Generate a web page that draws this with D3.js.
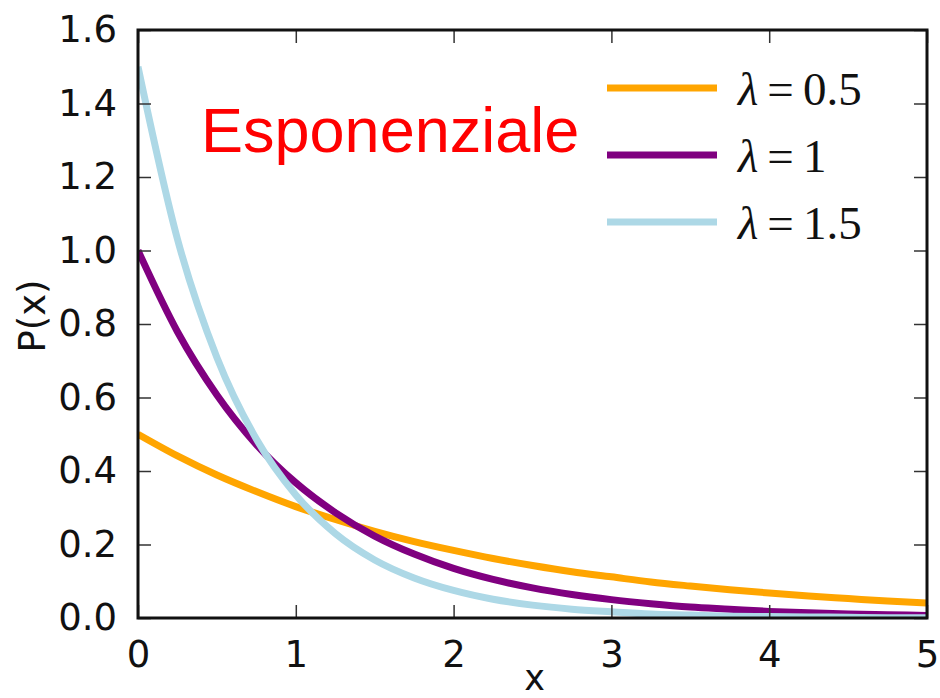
<!DOCTYPE html>
<html><head><meta charset="utf-8">
<script src="https://cdn.jsdelivr.net/npm/d3@7"></script>
<style>body{margin:0;background:#fff}svg{display:block}</style>
</head><body>
<svg id="c" width="940" height="698"></svg>
<script>
// x positions
const xs = [0,0.25,0.5,0.75,1,1.25,1.5,1.75,2,2.25,2.5,2.75,3,3.25,3.5,3.75,4,4.25,4.5,4.75,5];
// values
const lam05 = [0.50,0.441,0.389,0.344,0.303,0.268,0.236,0.208,0.184,0.162,0.143,0.126,0.112,0.098,0.087,0.077,0.068,0.060,0.053,0.046,0.041];
const lam1  = [1.00,0.779,0.607,0.472,0.368,0.287,0.223,0.174,0.135,0.105,0.082,0.064,0.050,0.039,0.030,0.024,0.018,0.014,0.011,0.009,0.007];
const lam15 = [1.50,1.031,0.709,0.487,0.335,0.230,0.158,0.109,0.075,0.051,0.035,0.024,0.017,0.011,0.008,0.005,0.004,0.003,0.002,0.001,0.001];
const seriesNames = ["0.5","1","1.5"];
const seriesColors = ["#FFA500","#800080","#ADD8E6"];
const xTicks = [0,1,2,3,4,5];
const yTicks = [0,0.2,0.4,0.6,0.8,1.0,1.2,1.4,1.6];
const title = "Esponenziale";

const svg = d3.select("#c");
const L=138, T=30, W=789, H=588;
const x = d3.scaleLinear().domain([0,5]).range([L, L+W]);
const y = d3.scaleLinear().domain([0,1.6]).range([T+H, T]);

const allSeries = [lam05, lam1, lam15];
const line = d3.line().x((d,i)=>x(xs[i])).y(d=>y(d)).curve(d3.curveMonotoneX);

svg.append("defs").append("clipPath").attr("id","pc").append("rect")
  .attr("x",L).attr("y",T).attr("width",W).attr("height",H);

const g = svg.append("g").attr("clip-path","url(#pc)");
allSeries.forEach((s,k)=>{
  g.append("path").attr("d", line(s)).attr("fill","none")
    .attr("stroke", seriesColors[k]).attr("stroke-width",7).attr("stroke-linejoin","round");
});

// ticks (inward, all sides)
const tl = 13;
const tickStyle = sel => sel.attr("stroke","#333").attr("stroke-width",1.5);
const axL = d3.axisLeft(y).tickValues(yTicks).tickFormat(d3.format(".1f")).tickSizeInner(-tl).tickSizeOuter(0).tickPadding(tl+8);
const axB = d3.axisBottom(x).tickValues(xTicks).tickFormat(d3.format("d")).tickSizeInner(-tl).tickSizeOuter(0).tickPadding(tl+10);
const axR = d3.axisRight(y).tickValues(yTicks).tickFormat("").tickSizeInner(-tl).tickSizeOuter(0);
const axT = d3.axisTop(x).tickValues(xTicks).tickFormat("").tickSizeInner(-tl).tickSizeOuter(0);

function style(gsel){
  gsel.select(".domain").remove();
  gsel.selectAll(".tick line").call(tickStyle);
  gsel.selectAll("text").attr("font-family","DejaVu Sans").attr("font-size",37).attr("fill","#111");
}
svg.append("g").attr("transform",`translate(${L},0)`).call(axL).call(style);
svg.append("g").attr("transform",`translate(0,${T+H})`).call(axB).call(style);
svg.append("g").attr("transform",`translate(${L+W},0)`).call(axR).call(style);
svg.append("g").attr("transform",`translate(0,${T})`).call(axT).call(style);

// frame
svg.append("rect").attr("x",L).attr("y",T).attr("width",W).attr("height",H)
  .attr("fill","none").attr("stroke","#111").attr("stroke-width",3);

// axis labels
svg.append("text").attr("x",x(2.5)+2).attr("y",690).attr("text-anchor","middle")
  .attr("font-family","DejaVu Sans").attr("font-size",35).attr("fill","#111").text("x");
svg.append("text").attr("transform","translate(45,316) rotate(-90)").attr("text-anchor","middle")
  .attr("font-family","DejaVu Sans").attr("font-size",37).attr("fill","#111").text("P(x)");

// title
svg.append("text").attr("x",201).attr("y",152).attr("font-family","Liberation Sans, Arial")
  .attr("font-size",63).attr("fill","#FF0000").text(title);

// legend
const legY = [88,155,222];
seriesNames.forEach((n,k)=>{
  svg.append("line").attr("x1",607).attr("x2",717).attr("y1",legY[k]).attr("y2",legY[k])
    .attr("stroke",seriesColors[k]).attr("stroke-width",7);
  const t = svg.append("text").attr("x",738).attr("y",legY[k]+17)
    .attr("font-family","Liberation Serif, Times New Roman, serif").attr("font-size",47).attr("fill","#111");
  t.append("tspan").attr("font-style","italic").text("λ");
  t.append("tspan").attr("dx",9).text("=");
  t.append("tspan").attr("dx",9).text(n);
});
</script>
</body></html>
